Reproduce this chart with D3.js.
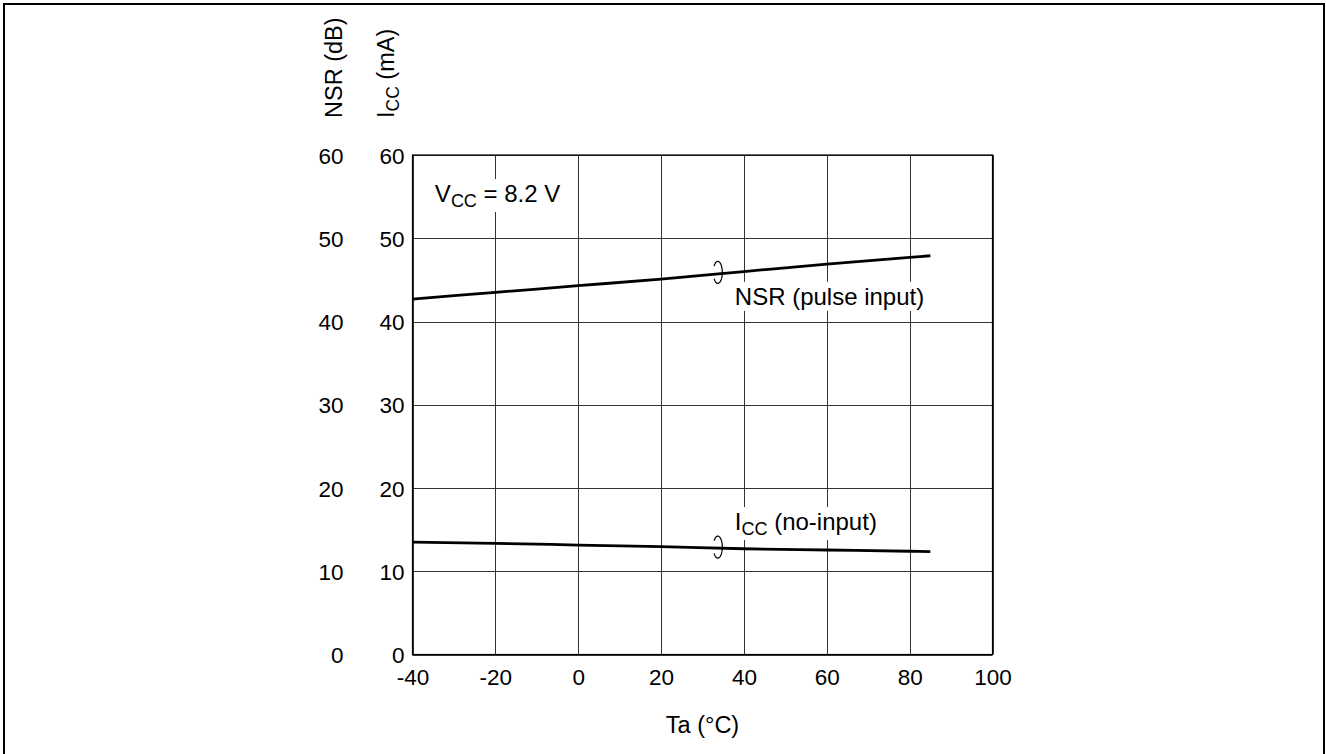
<!DOCTYPE html>
<html><head><meta charset="utf-8">
<script src="https://cdn.jsdelivr.net/npm/d3@7"></script>
<style>
html,body{margin:0;padding:0;background:#fff;}
svg{display:block;font-family:Arial,"Liberation Sans",Helvetica,sans-serif;}
</style></head>
<body>
<svg id="chart" width="1326" height="754"></svg>
<script>
// ---- data ----
const temps = [-40, -20, 0, 20, 40, 60, 80, 85];
const nsrValues = [42.7, 43.5, 44.3, 45.1, 46.0, 46.9, 47.7, 47.9];
const iccValues = [13.5, 13.35, 13.15, 12.95, 12.7, 12.55, 12.4, 12.35];
const xTicks = [-40, -20, 0, 20, 40, 60, 80, 100];
const yTicks = [0, 10, 20, 30, 40, 50, 60];
const markerTemps = [33.7, 33.7];
const markerValues = [45.9, 12.9];

const svg = d3.select("#chart");
const x = d3.scaleLinear().domain([-40, 100]).range([412.5, 992.5]);
const y = d3.scaleLinear().domain([0, 60]).range([654.5, 155]);
const FONT = "Arial, 'Liberation Sans', sans-serif";

// outer frame
svg.append("rect").attr("x", 4).attr("y", 4).attr("width", 1320).attr("height", 770)
  .attr("fill", "none").attr("stroke", "#000").attr("stroke-width", 2);

const g = svg.append("g");

// grid
g.selectAll(".vg").data(xTicks).join("line")
  .attr("x1", d => Math.round(x(d)) + 0.5).attr("x2", d => Math.round(x(d)) + 0.5)
  .attr("y1", y(0)).attr("y2", y(60))
  .attr("stroke", "#333").attr("stroke-width", 1);
g.selectAll(".hg").data(yTicks).join("line")
  .attr("y1", d => Math.round(y(d)) + 0.5).attr("y2", d => Math.round(y(d)) + 0.5)
  .attr("x1", x(-40)).attr("x2", x(100))
  .attr("stroke", "#333").attr("stroke-width", 1);

// x axis labels
const xAxis = g.append("g").attr("transform", `translate(0,${y(0)})`)
  .call(d3.axisBottom(x).tickValues(xTicks).tickSize(0).tickPadding(0).tickFormat(d => String(d)));
xAxis.select(".domain").remove();
xAxis.selectAll("text").attr("font-size", 22.5).attr("font-family", FONT)
  .attr("fill", "#000").attr("dy", null).attr("y", 30.5);

// y axis labels: two columns
const yAxisR = g.append("g").attr("transform", `translate(${x(-40)},0)`)
  .call(d3.axisLeft(y).tickValues(yTicks).tickSize(0).tickPadding(8).tickFormat(d => String(d)));
yAxisR.select(".domain").remove();
yAxisR.selectAll("text").attr("font-size", 22.5).attr("font-family", FONT)
  .attr("fill", "#000").attr("dy", "0.36em");

const yAxisL = g.append("g").attr("transform", `translate(${x(-40) - 69},0)`)
  .call(d3.axisLeft(y).tickValues(yTicks).tickSize(0).tickPadding(0).tickFormat(d => String(d)));
yAxisL.select(".domain").remove();
yAxisL.selectAll("text").attr("font-size", 22.5).attr("font-family", FONT)
  .attr("fill", "#000").attr("dy", "0.36em");

// axis titles
svg.append("text").attr("transform", "translate(342,118) rotate(-90)")
  .attr("font-size", 23.5).attr("fill", "#000").text("NSR (dB)");
const t2 = svg.append("text").attr("transform", "translate(394,118) rotate(-90)")
  .attr("font-size", 23.5).attr("fill", "#000");
t2.append("tspan").text("I");
t2.append("tspan").attr("font-size", 17.5).attr("dy", 5).text("CC");
t2.append("tspan").attr("dy", -5).text(" (mA)");

svg.append("text").attr("x", x(30)).attr("y", 733).attr("text-anchor", "middle")
  .attr("font-size", 23.5).attr("fill", "#000").text("Ta (°C)");

// frame of plot
g.append("rect").attr("x", x(-40)).attr("y", y(60)).attr("width", x(100) - x(-40)).attr("height", y(0) - y(60))
  .attr("fill", "none").attr("stroke", "#000").attr("stroke-width", 1.2);

// labels with white backgrounds
function boxedLabel(tx, ty, parts) {
  const lg = g.append("g");
  const bg = lg.append("rect").attr("fill", "#fff");
  const t = lg.append("text").attr("x", x(tx)).attr("y", y(ty)).attr("font-size", 24).attr("fill", "#000");
  parts.forEach(p => {
    const s = t.append("tspan").text(p.t);
    if (p.sub) s.attr("font-size", 18).attr("dy", 5);
    if (p.up) s.attr("dy", -5);
  });
  const b = t.node().getBBox();
  bg.attr("x", b.x - 3).attr("y", b.y - 1).attr("width", b.width + 6).attr("height", b.height + 2);
}
boxedLabel(-34.6, 54.35, [{t: "V"}, {t: "CC", sub: true}, {t: " = 8.2 V", up: true}]);
boxedLabel(37.8, 42.0, [{t: "NSR (pulse input)"}]);
boxedLabel(37.8, 14.95, [{t: "I"}, {t: "CC", sub: true}, {t: " (no-input)", up: true}]);

// curves
const line = d3.line().x((d, i) => x(temps[i])).y(d => y(d)).curve(d3.curveMonotoneX);
g.append("path").datum(nsrValues).attr("d", line).attr("fill", "none").attr("stroke", "#000").attr("stroke-width", 2.8);
g.append("path").datum(iccValues).attr("d", line).attr("fill", "none").attr("stroke", "#000").attr("stroke-width", 2.8);

// bracket markers: open ellipse loops, gap on the left
markerTemps.forEach((t, i) => {
  const cx = x(t), cy = y(markerValues[i]);
  const rx = 4.5, ry = 11;
  const a0 = -145 * Math.PI / 180, a1 = 145 * Math.PI / 180;
  const pts = d3.range(0, 41).map(k => {
    const a = a0 + (a1 - a0) * k / 40;
    return [cx + rx * Math.cos(a), cy + ry * Math.sin(a)];
  });
  g.append("path").attr("d", d3.line()(pts)).attr("fill", "none").attr("stroke", "#000").attr("stroke-width", 1.2);
});
</script>
</body></html>
